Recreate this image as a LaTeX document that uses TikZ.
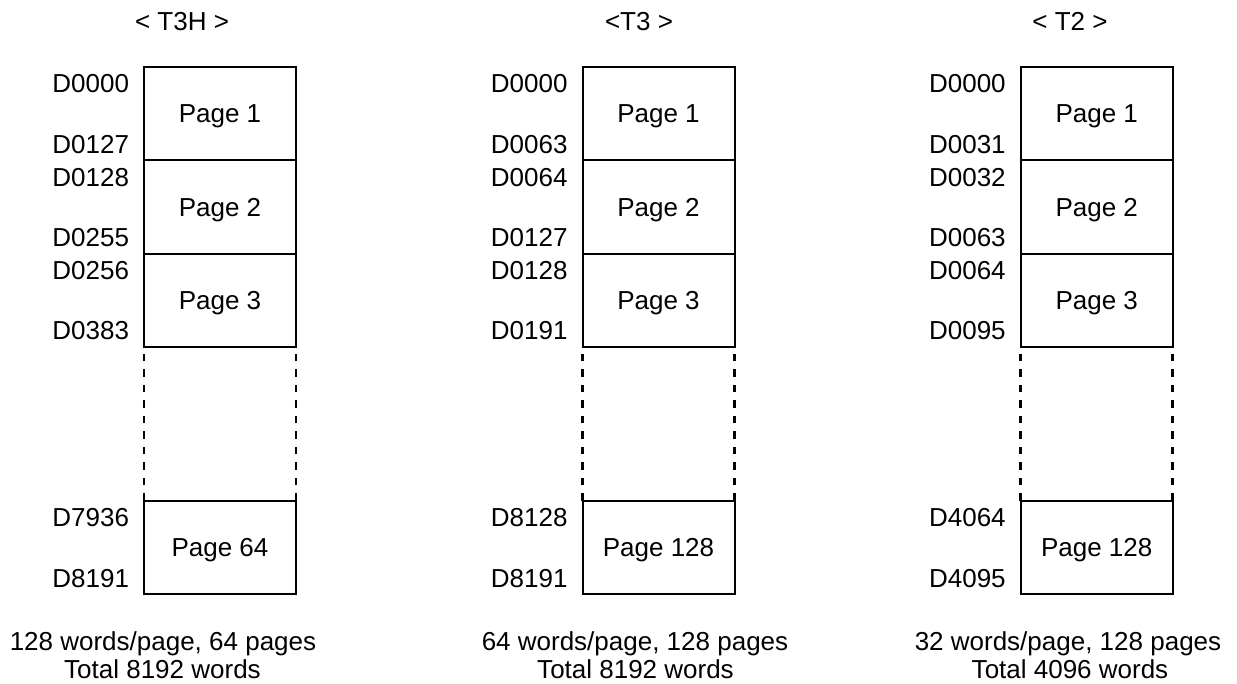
\documentclass[tikz,border=0pt]{standalone}
\usepackage{fontspec}
\setmainfont{Liberation Sans}
\begin{document}
\begin{tikzpicture}[x=1pt,y=-1pt,
  every node/.style={font=\fontsize{26}{30}\selectfont, inner sep=0pt, outer sep=0pt},
  pagebox/.style={draw, line width=2pt, minimum width=152pt, minimum height=93.33pt, text height=18.5pt, text depth=0pt},
  addr/.style={anchor=base east},
  dashline/.style={line width=2.8pt, dash pattern=on 7.5pt off 8pt},
  title/.style={anchor=base},
  caption/.style={anchor=base}]
\useasboundingbox (0,0) rectangle (1237,684);

\foreach \c/\cx/\tx/\tt/\la/\lb/\lc/\ld/\le/\lf/\lg/\lh/\pn/\ca/\cb/\cax/\cbx in {
  1/220/182/{< T3H >}/D0000/D0127/D0128/D0255/D0256/D0383/D7936/D8191/{Page 64}/{128 words/page, 64 pages}/{Total 8192 words}/163/162.5,
  2/658.5/639/{<T3 >}/D0000/D0063/D0064/D0127/D0128/D0191/D8128/D8191/{Page 128}/{64 words/page, 128 pages}/{Total 8192 words}/635/635.5,
  3/1096.7/1070/{< T2 >}/D0000/D0031/D0032/D0063/D0064/D0095/D4064/D4095/{Page 128}/{32 words/page, 128 pages}/{Total 4096 words}/1068/1070} {
  \node[title] (t\c) at (\tx,30.7) {\tt};
  \node[pagebox] (p\c a) at (\cx,113.67) {Page 1};
  \node[pagebox] (p\c b) at (\cx,207) {Page 2};
  \node[pagebox] (p\c c) at (\cx,300.33) {Page 3};
  \node[pagebox] (p\c n) at (\cx,547.5) {\pn};
  \draw[dashline] (p\c n.north west) -- (p\c c.south west);
  \draw[dashline] (p\c n.north east) -- (p\c c.south east);
  \node[addr] (l\c a) at ([shift={(-15,25.7)}]p\c a.north west) {\la};
  \node[addr] (l\c b) at ([shift={(-15,-7)}]p\c a.south west) {\lb};
  \node[addr] (l\c c) at ([shift={(-15,25.7)}]p\c b.north west) {\lc};
  \node[addr] (l\c d) at ([shift={(-15,-7)}]p\c b.south west) {\ld};
  \node[addr] (l\c e) at ([shift={(-15,25.7)}]p\c c.north west) {\le};
  \node[addr] (l\c f) at ([shift={(-15,-7)}]p\c c.south west) {\lf};
  \node[addr] (l\c g) at ([shift={(-15,25.7)}]p\c n.north west) {\lg};
  \node[addr] (l\c h) at ([shift={(-15,-7)}]p\c n.south west) {\lh};
  \node[caption] (ca\c) at (\cax,650) {\ca};
  \node[caption] (cb\c) at (\cbx,678) {\cb};
}
\end{tikzpicture}
\end{document}
